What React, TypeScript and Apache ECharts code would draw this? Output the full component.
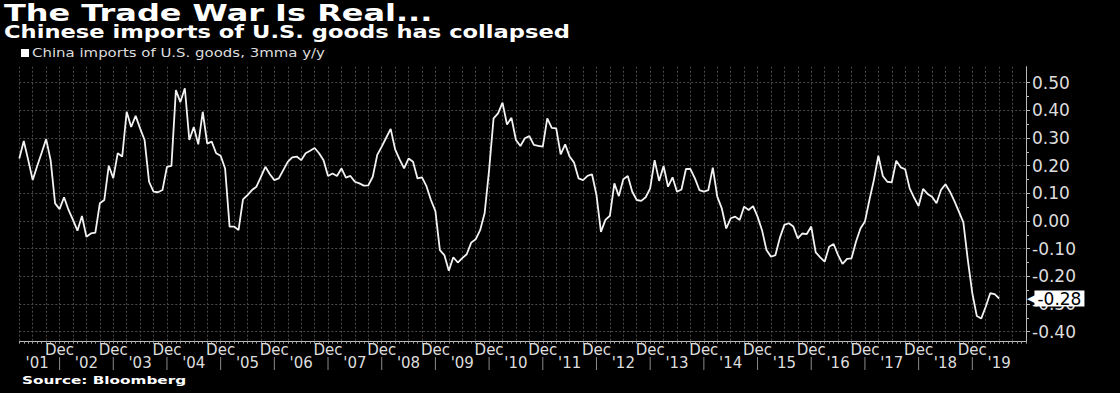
import React, { useEffect, useRef } from "react";
import * as echarts from "echarts";

const monthNames = ["Jan", "Feb", "Mar", "Apr", "May", "Jun", "Jul", "Aug", "Sep", "Oct", "Nov", "Dec"];
const firstYear = 2001;
const firstMonth = 2; // March
const lastYear = 2019;

const categories: string[] = [];
for (let y = firstYear; y <= lastYear; y++) {
  for (let m = 0; m < 12; m++) {
    if (y === firstYear && m < firstMonth) continue;
    categories.push(`${monthNames[m]} ${y}`);
  }
}

const titleText = "The Trade War Is Real...";
const subtitleText = "Chinese imports of U.S. goods has collapsed";
const seriesName = "China imports of U.S. goods, 3mma y/y";
const sourceText = "Source: Bloomberg";

const values = [
  0.226, 0.289, 0.22, 0.148, 0.199, 0.247, 0.296, 0.22, 0.064, 0.043,
  0.086, 0.04, 0.004, -0.035, 0.018, -0.057, -0.045, -0.042, 0.064, 0.076,
  0.2, 0.155, 0.245, 0.233, 0.395, 0.34, 0.38, 0.335, 0.293, 0.142,
  0.106, 0.104, 0.112, 0.196, 0.199, 0.473, 0.43, 0.48, 0.293, 0.34,
  0.277, 0.395, 0.28, 0.287, 0.245, 0.236, 0.19, -0.02, -0.02, -0.033,
  0.078, 0.094, 0.112, 0.124, 0.16, 0.196, 0.169, 0.148, 0.154, 0.184,
  0.214, 0.23, 0.233, 0.22, 0.245, 0.254, 0.264, 0.245, 0.22, 0.163,
  0.172, 0.163, 0.19, 0.157, 0.163, 0.142, 0.136, 0.128, 0.129, 0.16,
  0.239, 0.269, 0.301, 0.333, 0.259, 0.223, 0.19, 0.226, 0.214, 0.154,
  0.158, 0.126, 0.076, 0.036, -0.105, -0.123, -0.18, -0.131, -0.15, -0.134,
  -0.12, -0.078, -0.066, -0.033, 0.028, 0.184, 0.371, 0.389, 0.428, 0.349,
  0.373, 0.293, 0.271, 0.299, 0.307, 0.275, 0.272, 0.269, 0.371, 0.337,
  0.335, 0.241, 0.277, 0.233, 0.211, 0.154, 0.148, 0.163, 0.169, 0.094,
  -0.039, 0.004, 0.019, 0.136, 0.09, 0.151, 0.163, 0.106, 0.076, 0.073,
  0.086, 0.118, 0.22, 0.145, 0.199, 0.124, 0.158, 0.106, 0.114, 0.188,
  0.188, 0.154, 0.112, 0.106, 0.112, 0.193, 0.088, 0.046, -0.027, 0.01,
  0.016, 0.004, 0.052, 0.04, 0.054, 0.016, -0.033, -0.105, -0.129, -0.123,
  -0.06, -0.014, -0.008, -0.02, -0.063, -0.045, -0.047, -0.02, -0.113, -0.131,
  -0.147, -0.093, -0.083, -0.123, -0.155, -0.137, -0.135, -0.075, -0.027, -0.002,
  0.076, 0.148, 0.236, 0.163, 0.142, 0.14, 0.218, 0.194, 0.187, 0.118,
  0.084, 0.054, 0.116, 0.098, 0.088, 0.064, 0.112, 0.133, 0.106, 0.072,
  0.034, -0.005, -0.141, -0.261, -0.343, -0.352, -0.31, -0.261, -0.264, -0.28,
];

const yTicks = { min: -0.4, max: 0.5, interval: 0.1 };

const FONT = "DejaVu Sans";

export default function App() {
  const ref = useRef<HTMLDivElement>(null);

  useEffect(() => {
    document.body.style.margin = "0";
    document.body.style.background = "#000";
    const chart = echarts.init(ref.current!, null, { renderer: "svg" });
    const last = values[values.length - 1];

    const isDec = (i: number) => categories[i].startsWith("Dec") && i < categories.length - 1;
    const isYearMid = (i: number) => {
      const c = categories[i];
      if (c.endsWith(String(firstYear))) return c.startsWith("Jul");
      return c.startsWith("Jun");
    };
    const separatorData = categories.map((_, i) => (isDec(i) ? 1 : "-"));

    const gridL = 19.3;
    const gridR = 94;

    chart.setOption({
      animation: false,
      backgroundColor: "#000",
      legend: { show: false, data: [seriesName] },
      graphic: [
        {
          type: "text",
          x: 4,
          y: 2,
          scaleX: 1.39,
          style: { text: titleText, fill: "#fff", font: `bold 23px "${FONT}"`, verticalAlign: "top" },
        },
        {
          type: "text",
          x: 4,
          y: 24,
          scaleX: 1.33,
          style: { text: subtitleText, fill: "#fff", font: `bold 17px "${FONT}"`, verticalAlign: "top" },
        },
        {
          type: "rect",
          shape: { x: 21, y: 49, width: 8, height: 8 },
          style: { fill: "#fff" },
        },
        {
          type: "text",
          x: 32,
          y: 47.5,
          scaleX: 1.3,
          style: { text: seriesName, fill: "#ddd", font: `11.5px "${FONT}"`, verticalAlign: "top" },
        },
        {
          type: "text",
          x: 22,
          y: 375,
          scaleX: 1.39,
          style: { text: sourceText, fill: "#fff", font: `bold 11px "${FONT}"`, verticalAlign: "top" },
        },
      ],
      grid: [
        { left: gridL, right: gridR, top: 82.7, bottom: 393 - 331.7 },
        { left: gridL, right: gridR, top: 66.7, bottom: 393 - 341.7 },
        { left: gridL, right: gridR, top: 357, bottom: 393 - 370 },
      ],
      xAxis: [
        {
          type: "category",
          gridIndex: 0,
          data: categories,
          boundaryGap: false,
          show: false,
        },
        {
          type: "category",
          gridIndex: 1,
          data: categories,
          boundaryGap: false,
          axisLine: { show: true, lineStyle: { color: "#bbb", width: 1 } },
          axisTick: { show: true, interval: 0, length: 2, lineStyle: { color: "#999" } },
          splitLine: {
            show: true,
            interval: (i: number) => i % 3 === 0,
            lineStyle: { color: "#4a4a4a", type: [2, 2], width: 1 },
          },
          axisLabel: {
            show: true,
            interval: (i: number) => isDec(i),
            formatter: () => "Dec",
            color: "#ddd",
            fontSize: 15,
            fontFamily: FONT,
            margin: 1,
          },
        },
        {
          type: "category",
          gridIndex: 2,
          data: categories,
          boundaryGap: false,
          position: "bottom",
          axisLine: { show: false },
          axisTick: { show: false },
          splitLine: { show: false },
          axisLabel: {
            show: true,
            inside: true,
            interval: (i: number) => isYearMid(i),
            formatter: (v: string) => "'" + v.slice(-2),
            color: "#ddd",
            fontSize: 15,
            fontFamily: FONT,
            margin: 0,
          },
        },
      ],
      yAxis: [
        {
          type: "value",
          gridIndex: 0,
          position: "right",
          min: yTicks.min,
          max: yTicks.max,
          interval: yTicks.interval,
          axisLine: { show: true, lineStyle: { color: "#bbb", width: 1 } },
          axisTick: { show: true, length: 4, lineStyle: { color: "#bbb" } },
          minorTick: { show: true, splitNumber: 2, length: 3, lineStyle: { color: "#bbb" } },
          splitLine: { show: true, lineStyle: { color: "#4a4a4a", type: [2, 2], width: 1 } },
          axisLabel: {
            formatter: (v: number) => (Math.abs(v) < 1e-9 ? "0.00" : v.toFixed(2)),
            color: "#ddd",
            fontSize: 17,
            fontFamily: FONT,
            margin: 6,
          },
        },
        {
          type: "value",
          gridIndex: 1,
          position: "right",
          min: 0,
          max: 1,
          axisLine: { show: true, lineStyle: { color: "#bbb", width: 1 } },
          axisTick: { show: false },
          axisLabel: { show: false },
          splitLine: { show: false },
        },
        {
          type: "value",
          gridIndex: 2,
          min: 0,
          max: 1,
          show: false,
        },
      ],
      series: [
        {
          name: "year separators",
          type: "bar",
          xAxisIndex: 2,
          yAxisIndex: 2,
          data: separatorData,
          barWidth: 1,
          silent: true,
          itemStyle: { color: "#8a8a8a" },
        },
        {
          name: seriesName,
          type: "line",
          xAxisIndex: 0,
          yAxisIndex: 0,
          data: values,
          symbol: "none",
          lineStyle: { color: "#f2f2f2", width: 1.8 },
          itemStyle: { color: "#fff" },
          markLine: {
            silent: true,
            symbol: "none",
            lineStyle: { color: "rgba(0,0,0,0)", width: 1, type: "solid" },
            data: [{ yAxis: last }],
            label: {
              show: true,
              position: "end",
              distance: 1,
              formatter: () => `{a|◀}{b|${last.toFixed(2)}}`,
              rich: {
                a: { color: "#fff", fontSize: 11, fontFamily: FONT, padding: [0, -1, 0, 0] },
                b: {
                  color: "#000",
                  backgroundColor: "#fff",
                  fontSize: 17,
                  fontFamily: FONT,
                  padding: [0, 3, -1, 3],
                },
              },
            },
          },
        },
      ],
    });
    return () => chart.dispose();
  }, []);

  return <div ref={ref} style={{ width: 1120, height: 393 }} />;
}
